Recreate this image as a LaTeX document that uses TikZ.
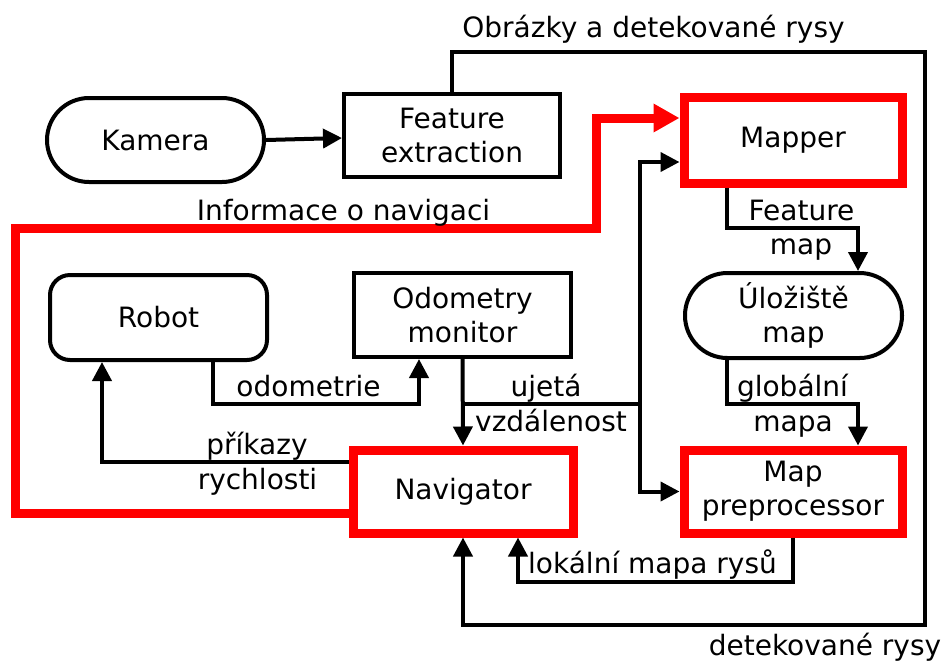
\documentclass[tikz,border=0pt]{standalone}
\usepackage{fontspec}
\setmainfont{DejaVu Sans}
\usetikzlibrary{arrows.meta,calc}
\begin{document}
\begin{tikzpicture}[x=0.5pt,y=-0.5pt,
  font=\fontsize{14}{17}\selectfont,
  every node/.style={inner sep=0pt},
  redbox/.style={draw=red,line width=4.5pt,align=center},
  conn/.style={draw=black,line width=2pt,-{Triangle[length=9.5pt,width=9.5pt]}},
  plain/.style={draw=black,line width=2pt},
  redconn/.style={draw=red,line width=4.5pt,-{Triangle[length=13pt,width=13.5pt]}},
  lbl/.style={anchor=base}]
\useasboundingbox (0,0) rectangle (943,660);

% blocks
\node[draw,line width=2pt,minimum width=108.5pt,minimum height=42pt,rounded corners=21pt] (kam) at (155.5,140) {Kamera};
\node[draw,line width=2pt,minimum width=108pt,minimum height=41.5pt,align=center] (fe) at (452,135.5) {Feature\\extraction};
\node[redbox,minimum width=109pt,minimum height=43pt] (mapper) at (793,140) {Mapper};
\node[draw,line width=2pt,minimum width=108.5pt,minimum height=42.5pt,rounded corners=10pt] (robot) at (158.5,317.5) {Robot};
\node[draw,line width=2pt,minimum width=108.5pt,minimum height=42pt,align=center] (odo) at (462.5,315) {Odometry\\monitor};
\node[draw,line width=2pt,minimum width=108.5pt,minimum height=42.5pt,rounded corners=21.2pt,align=center] (ulo) at (793.5,315.5) {Úložiště\\map};
\node[redbox,minimum width=110pt,minimum height=41.5pt] (nav) at (463,491.5) {Navigator};
\node[redbox,minimum width=109pt,minimum height=41.5pt] (pre) at (793,491.5) {Map\\preprocessor};

% junction points of the connectors
\coordinate (tr) at (925,52);
\coordinate (br) at (925,625);
\coordinate (ra) at (15,513);
\coordinate (rb) at (596,228);
\coordinate (rc) at (596,118);
\coordinate (vb) at (640,404);
\coordinate (mt) at (640,162);
\coordinate (ro) at (213,404);
\coordinate (ro2) at (419,404);
\coordinate (nr) at (102,462);
\coordinate (mu) at (727,228);
\coordinate (mu2) at (858,228);
\coordinate (ug) at (727,404);
\coordinate (ug2) at (858,404);
\coordinate (pl2) at (518,582);

% connectors
\draw[conn] (kam.east) -- ($(fe.west)+(0,2.5)$);
\draw[conn] (fe.north) |- (tr) -- (br) -| (nav.south);
\draw[redconn] (ra -| nav.west) -- (ra) |- (rb) -- (rc) -- (rc -| mapper.west);
\draw[conn] (vb) -- (mt) -- (mt -| mapper.west);
\draw[conn] (vb) |- (pre.west);
\draw[conn] (odo.south) -- (nav.north);
\draw[plain] (odo.south |- vb) -- (vb);
\draw[conn] (ro |- robot.south) -- (ro) -- (ro2) -- (ro2 |- odo.south);
\draw[conn] (nr -| nav.west) -- (nr) -- (nr |- robot.south);
\draw[conn] (mu |- mapper.south) -- (mu) -- (mu2) -- (mu2 |- ulo.north);
\draw[conn] (ug |- ulo.south) -- (ug) -- (ug2) -- (ug2 |- pre.north);
\draw[conn] (pre.south) |- (pl2) -- (pl2 |- nav.south);

% connector labels
\node[lbl] (t1) at (653.5,37) {Obrázky a detekované rysy};
\node[lbl] (t2) at (825,655) {detekované rysy};
\node[lbl] (t3) at (343.5,220) {Informace o navigaci};
\node[lbl] (t4) at (308.5,396) {odometrie};
\node[lbl] (t5) at (257,454) {příkazy};
\node[lbl] (t6) at (257.5,489) {rychlosti};
\node[lbl] (t7) at (546,396) {ujetá};
\node[lbl] (t8) at (551,431) {vzdálenost};
\node[lbl] (t9) at (801.5,220) {Feature};
\node[lbl] (t10) at (801,254) {map};
\node[lbl] (t11) at (792.5,396) {globální};
\node[lbl] (t12) at (793,431) {mapa};
\node[lbl] (t13) at (652.5,573) {lokální mapa rysů};
\end{tikzpicture}
\end{document}
